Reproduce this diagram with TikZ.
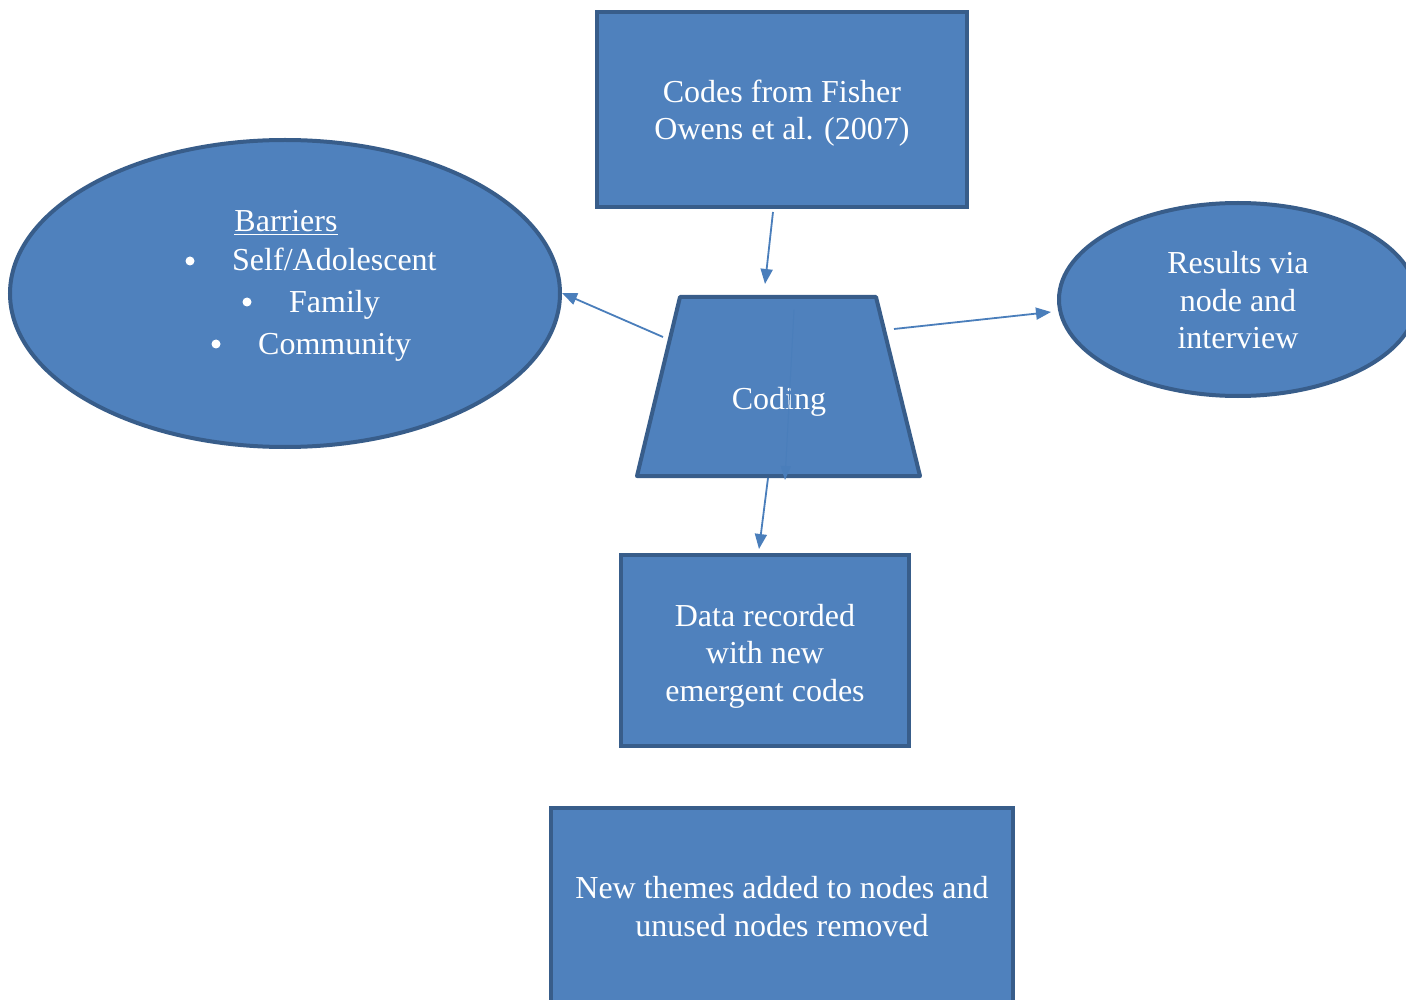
\documentclass[tikz,border=0pt]{standalone}
\usepackage{fontspec}
\setmainfont{Liberation Serif}
\usetikzlibrary{arrows.meta,shapes.geometric}
\definecolor{boxfill}{HTML}{4F81BD}
\definecolor{boxline}{HTML}{385D8A}
\definecolor{arrowc}{HTML}{4A7EBB}
\begin{document}
\begin{tikzpicture}[x=1pt,y=-1pt,
  shapebox/.style={draw=boxline,fill=boxfill,line width=4pt,inner sep=0pt},
  rectbox/.style={shapebox,rectangle},
  ellbox/.style={shapebox,ellipse},
  txt/.style={text=white,font=\fontsize{32}{37.5}\selectfont,align=center,inner sep=0pt},
  bul/.style={circle,fill=white,inner sep=0pt,minimum size=9pt},
  conn/.style={draw=arrowc,line width=1.8pt,-{Triangle[length=15pt,width=12pt]}},
  thin/.style={draw=arrowc,line width=1pt,-{Triangle[length=14pt,width=10pt]}}
]
\clip (0,0) rectangle (1406,1000);
\fill[white] (0,0) rectangle (1406,1000);

% shapes
\node[rectbox,minimum width=370pt,minimum height=195pt] (codes) at (782,109.5) {};
\node[ellbox,minimum width=550pt,minimum height=307pt] (barriers) at (285,293.5) {};
\node[ellbox,minimum width=358pt,minimum height=193pt] (results) at (1238,299.5) {};
\draw[shapebox,line join=round] (680,297) -- (876,297) -- (920,476) -- (637,476) -- cycle;
\node[rectbox,minimum width=288pt,minimum height=191pt] (data) at (765,650.5) {};
\node[rectbox,minimum width=462pt,minimum height=196pt] (themes) at (782,906) {};

% texts
\node[txt] (codest) at (782,113) {Codes from Fisher\\Owens et al. (2007)};
\node[txt,anchor=base] (bar) at (286,232) {\underline{Barriers}};
\node[bul] (d1) at (190,261) {};
\node[bul] (d2) at (247,302) {};
\node[bul] (d3) at (216,344) {};
\node[txt,anchor=base west] (b1) at (232,271) {Self/Adolescent};
\node[txt,anchor=base west] (b2) at (289,313) {Family};
\node[txt,anchor=base west] (b3) at (258,355) {Community};
\node[txt] (resultst) at (1238,300.5) {Results via\\node and\\interview};
\node[txt] (coding) at (779,402) {Coding};
\node[txt] (datat) at (765,656) {Data recorded\\with new\\emergent codes};
\node[txt] (themest) at (782,906.5) {New themes added to nodes and\\unused nodes removed};

% connector end points
\coordinate (a1s) at (773,212);
\coordinate (a1e) at (765,284);
\coordinate (a2s) at (663,337);
\coordinate (a2e) at (562,293);
\coordinate (a3s) at (894,329);
\coordinate (a3e) at (1051,312);
\coordinate (a4s) at (768,478);
\coordinate (a4e) at (759,549);
\coordinate (a5s) at (794,310);
\coordinate (a5e) at (785,480);

\draw[conn] (a1s) -- (a1e);
\draw[conn] (a2s) -- (a2e);
\draw[conn] (a3s) -- (a3e);
\draw[conn] (a4s) -- (a4e);
\draw[thin] (a5s) -- (a5e);
\end{tikzpicture}
\end{document}
